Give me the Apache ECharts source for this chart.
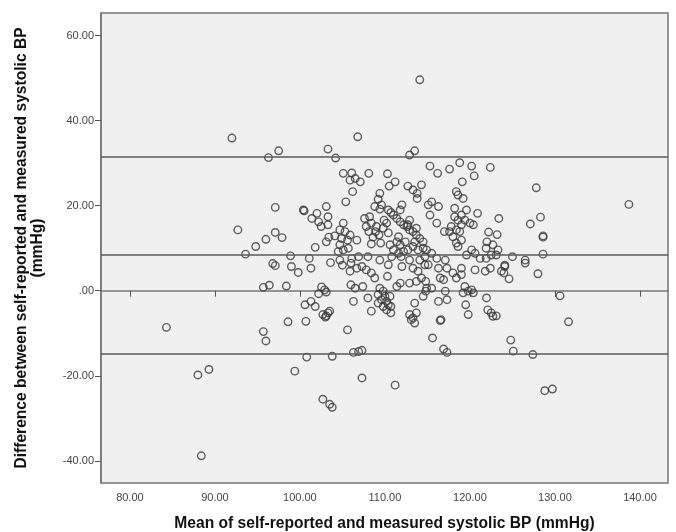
<!DOCTYPE html>
<html>
<head>
<meta charset="utf-8">
<script src="https://cdn.jsdelivr.net/npm/echarts@6/dist/echarts.min.js"></script>
<style>
html,body{margin:0;padding:0;background:#fff;}
#chart{width:676px;height:532px;}
</style>
</head>
<body>
<div id="chart"></div>
<script>
// Mean of self-reported and measured systolic BP (mmHg)
const meanBP = [
92.0,96.3,97.5,103.3,104.2,106.8,112.9,113.5,114.1,
97.1,92.7,97.1,97.9,96.0,94.8,93.6,98.9,96.8,97.1,95.7,96.4,98.4,84.3,95.7,96.0,88.0,89.3,88.4,98.6,99.4,
102.7,103.5,103.8,107.3,111.2,128.8,129.7,138.7,130.6,131.6,127.4,124.8,125.1,
105.1,106.1,105.9,107.1,106.5,106.2,105.4,100.5,100.4,103.1,102.0,101.4,103.3,102.2,102.5,103.3,105.1,104.7,105.3,105.9,104.1,104.9,105.6,103.4,103.1,101.8,104.7,104.5,105.1,105.7,101.1,104.7,106.1,
108.1,110.3,111.2,110.5,112.7,114.3,113.3,113.8,113.8,109.4,109.2,109.6,108.8,109.4,112.0,111.8,110.4,110.7,
111.0,111.4,111.8,112.2,112.6,112.9,113.3,113.7,114.1,114.5,112.9,113.7,112.7,
109.9,110.2,109.8,110.4,107.6,108.2,108.4,109.0,107.8,108.1,108.9,108.6,109.3,109.5,108.4,
111.6,111.4,110.6,111.8,112.4,111.0,111.6,112.2,113.5,113.3,112.7,113.9,114.5,106.7,
106.9,108.0,109.4,110.8,111.9,112.9,114.1,114.7,
115.3,116.2,117.6,118.8,120.2,120.5,122.4,119.1,118.4,118.6,119.2,
115.5,116.3,115.1,115.3,116.1,118.2,119.6,120.9,119.0,118.2,
118.6,119.4,120.0,120.4,119.0,117.8,118.4,117.0,117.6,118.8,118.0,119.0,118.4,118.6,
122.2,123.2,122.0,122.7,
114.9,115.5,116.1,117.1,119.6,120.2,120.6,121.2,121.9,122.5,121.9,
127.8,123.4,127.1,128.3,128.6,128.6,123.3,123.1,125.0,126.5,128.6,124.1,
99.0,99.8,101.3,103.6,105.0,106.0,105.9,
102.55,102.9,102.2,103.1,106.0,106.5,
100.6,101.3,101.8,106.3,
102.7,103.0,103.3,103.5,103.1,
100.7,105.6,100.8,103.8,106.3,
107.3,107.8,108.4,108.8,106.7,
110.4,112.0,113.3,114.7,113.9,
110.3,111.4,111.8,112.9,113.7,114.3,
107.4,108.0,
109.4,109.8,109.2,110.0,110.6,109.6,110.2,109.2,110.4,109.8,110.7,110.2,110.7,114.5,114.9,
108.4,113.5,
112.9,113.3,113.5,113.7,113.1,
106.9,107.3,
115.1,116.3,117.3,118.0,118.4,119.0,119.0,120.6,121.8,122.4,116.5,116.9,
114.8,114.8,115.5,
117.1,116.3,117.3,
119.4,119.8,119.2,120.4,120.2,
119.5,119.8,
121.95,122.1,122.5,122.7,
116.5,116.6,
115.6,116.9,117.3,
124.1,123.7,124.0,124.6,126.5,128.0,123.1
];
// Difference between self-reported and measured systolic BP (mmHg)
const diffBP = [
35.9,31.3,32.9,33.3,31.2,36.2,31.9,32.9,49.6,
19.6,14.3,13.7,12.5,12.1,10.4,8.6,8.2,6.4,5.9,0.8,1.3,1.1,-8.6,-9.6,-11.8,-19.8,-18.5,-38.8,-7.3,-18.9,
-25.5,-26.7,-27.4,-20.5,-22.2,-23.5,-23.1,20.3,-1.2,-7.3,-15.0,-11.6,-14.2,
27.6,27.7,26.0,25.6,26.4,23.3,20.9,18.8,19.0,19.8,18.2,17.0,17.4,16.2,15.1,15.5,15.9,14.3,13.9,13.1,12.9,12.3,11.9,12.6,11.5,10.2,10.8,9.2,9.6,10.0,7.6,7.2,7.6,
27.6,27.5,25.6,24.6,24.6,24.9,23.7,22.9,21.7,22.9,21.5,20.2,19.8,19.2,20.2,19.0,19.0,18.4,
17.8,17.0,16.2,15.5,15.1,14.3,13.9,13.1,12.3,11.5,16.6,14.7,15.5,
16.6,15.9,14.7,13.6,17.0,17.4,15.9,15.1,15.1,13.9,13.9,12.6,13.1,11.2,11.0,
12.7,11.5,10.8,10.8,11.5,9.6,8.8,9.2,11.5,10.4,9.6,9.6,10.0,11.9,
8.0,8.0,7.2,8.0,8.0,7.2,7.2,8.0,
29.3,27.6,28.6,30.1,29.3,27.0,29.0,25.6,23.3,22.5,21.7,
20.9,19.8,20.2,17.8,15.9,19.4,19.0,18.2,17.8,17.4,
16.6,16.6,15.9,15.5,15.5,15.1,14.3,13.9,13.9,13.9,12.7,11.9,11.2,10.4,
13.8,13.2,11.5,10.8,
9.6,8.8,7.6,7.2,8.4,9.6,8.8,7.6,7.6,8.4,10.0,
24.2,17.0,15.7,17.3,12.9,12.6,9.6,8.4,8.0,7.2,8.6,6.0,
5.7,4.3,5.3,6.6,6.0,6.5,4.6,
0.9,0.2,-0.7,-0.3,1.4,0.6,
-3.3,-2.5,-3.7,-2.5,
-5.6,-6.2,-5.2,-4.8,-5.9,
-7.2,-9.2,-15.6,-15.4,-14.5,
5.7,4.9,4.2,3.0,5.3,
6.1,5.7,5.3,6.1,4.6,
3.4,1.0,1.8,1.8,2.2,3.0,
1.0,-1.7,
0.6,-0.1,-0.9,-1.3,-1.3,-2.1,-2.5,-2.9,-3.3,-3.7,-3.7,-4.5,-5.2,-1.3,0.6,
-4.8,-2.9,
-5.6,-6.4,-7.6,-5.2,-6.8,
-14.3,-14.0,
6.1,5.3,5.3,4.2,3.0,5.3,3.8,4.9,4.6,5.3,3.0,2.6,
2.2,-0.1,0.6,
-0.1,-2.5,-2.1,
1.0,-0.1,-0.5,-0.5,0.2,
-3.3,-5.6,
-1.7,-4.5,-5.2,-6.0,
-7.0,-6.8,
-11.1,-13.7,-14.5,
5.7,4.6,4.2,2.8,6.5,4.0,-5.9
];
// Mean difference and limits of agreement
const refLines = [31.6, 8.4, -14.9];
const xTicks = [80, 90, 100, 110, 120, 130, 140];
const yTicks = [-40, -20, 0, 20, 40, 60];

const points = meanBP.map((m, i) => [m, diffBP[i]]);
const fmt = v => (v === 0 ? '.00' : v.toFixed(2));
const FONT = 'Liberation Sans, Arial, sans-serif';

const chart = echarts.init(document.getElementById('chart'), null, {renderer: 'canvas'});
chart.setOption({
  animation: false,
  backgroundColor: '#ffffff',
  grid: {
    left: 101, right: 8, top: 13, bottom: 49,
    outerBoundsMode: 'none', containLabel: false,
    show: true, backgroundColor: '#f0f0f0', borderColor: '#767676', borderWidth: 1.5
  },
  xAxis: {
    type: 'value', min: 76.6, max: 143.3,
    name: 'Mean of self-reported and measured systolic BP (mmHg)',
    nameLocation: 'middle', nameGap: 33,
    nameTextStyle: {fontFamily: FONT, fontWeight: 'bold', fontSize: 15.6, color: '#111'},
    axisLine: {show: true, lineStyle: {color: '#767676', width: 1.5}},
    axisTick: {show: true, length: 6, customValues: xTicks, lineStyle: {color: '#555'}},
    axisLabel: {customValues: xTicks, formatter: fmt, margin: 9, fontSize: 11, color: '#444', fontFamily: FONT},
    splitLine: {show: false}
  },
  yAxis: {
    type: 'value', min: -45.2, max: 65.3,
    name: 'Difference between self-reported and measured systolic BP\n(mmHg)',
    nameLocation: 'middle', nameGap: 55, nameRotate: 90,
    nameTextStyle: {fontFamily: FONT, fontWeight: 'bold', fontSize: 15.6, color: '#111', lineHeight: 16, align: 'center'},
    axisLine: {show: true, lineStyle: {color: '#767676', width: 1.5}},
    axisTick: {show: true, length: 6, customValues: yTicks, lineStyle: {color: '#555'}},
    axisLabel: {customValues: yTicks, formatter: fmt, margin: 7, fontSize: 11, color: '#444', fontFamily: FONT},
    splitLine: {show: false}
  },
  series: [{
    type: 'scatter',
    data: points,
    symbol: 'circle',
    symbolSize: 7.5,
    itemStyle: {color: 'rgba(0,0,0,0)', borderColor: '#3a3a3a', borderWidth: 1.4},
    markLine: {
      silent: true, symbol: ['none', 'none'],
      label: {show: false},
      lineStyle: {color: '#5a5a5a', width: 1.5, type: 'solid'},
      data: refLines.map(v => ({yAxis: v}))
    },
    z: 3
  }]
});
</script>
</body>
</html>
